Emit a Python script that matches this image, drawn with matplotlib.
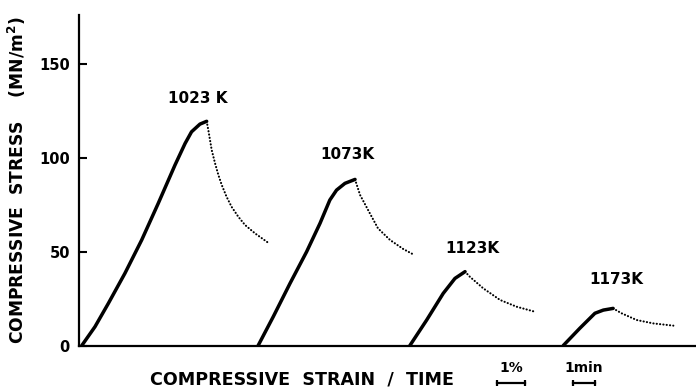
import matplotlib
matplotlib.use("Agg")
import matplotlib.pyplot as plt

# strain in % along x, stress in MN/m^2 along y
# solid = loading, dotted = relaxation after the peak
load_1023_x = [0.10, 0.57, 1.05, 1.64, 2.24, 2.83, 3.43, 3.79, 4.02, 4.32, 4.56]
load_1023_y = [0, 10.0, 22.5, 38.5, 56.3, 75.8, 96.3, 107.8, 114.0, 118.1, 119.6]
relax_1023_x = [4.56, 4.62, 4.68, 4.74, 4.86, 4.98, 5.10, 5.27, 5.45, 5.69, 5.93, 6.29, 6.76]
relax_1023_y = [119.6, 114.9, 109.6, 104.3, 97.2, 90.9, 85.6, 79.4, 74.0, 68.7, 64.3, 59.8, 54.8]

load_1073_x = [6.40, 6.94, 7.54, 8.13, 8.61, 8.96, 9.20, 9.50, 9.86]
load_1073_y = [0, 15.4, 33.2, 50.0, 65.2, 77.6, 82.9, 86.5, 88.6]
relax_1073_x = [9.86, 10.04, 10.39, 10.68, 11.11, 11.58, 11.94]
relax_1073_y = [88.6, 80.3, 70.5, 62.5, 56.3, 51.5, 48.6]

load_1123_x = [11.82, 12.42, 13.01, 13.43, 13.79]
load_1123_y = [0, 13.6, 27.8, 35.8, 39.4]
relax_1123_x = [13.79, 13.96, 14.44, 15.04, 15.63, 16.29]
relax_1123_y = [39.4, 36.7, 30.5, 24.3, 20.7, 18.0]

load_1173_x = [17.30, 17.89, 18.43, 18.73, 19.08]
load_1173_y = [0, 9.2, 17.2, 18.9, 19.8]
relax_1173_x = [19.08, 19.38, 19.92, 20.51, 21.23]
relax_1173_y = [19.8, 17.2, 13.6, 11.8, 10.6]

temp_labels = ["1023 K", "1073K", "1123K", "1173K"]
label_x = [4.25, 9.57, 14.04, 19.18]
label_y = [132, 102, 51.5, 35]

yticks = [0, 50, 100, 150]

# scale bars: 1 % strain, 1 min time (in strain units)
strain_bar = 1.0
strain_bar_start = 14.93
time_bar = 0.79
time_bar_start = 17.64

fig = plt.figure(figsize=(6.96, 3.89), dpi=100)
ax = fig.add_axes([0.1135, 0.1118, 0.8865, 0.8496])

curves = [
    (load_1023_x, load_1023_y, relax_1023_x, relax_1023_y),
    (load_1073_x, load_1073_y, relax_1073_x, relax_1073_y),
    (load_1123_x, load_1123_y, relax_1123_x, relax_1123_y),
    (load_1173_x, load_1173_y, relax_1173_x, relax_1173_y),
]
for lx, ly, rx, ry in curves:
    ax.plot(lx, ly, color="black", lw=2.5, solid_capstyle="round", solid_joinstyle="round")
    ax.plot(rx, ry, color="black", lw=1.5, linestyle=(0, (0.1, 1.5)),
            dash_capstyle="round")

for t, x, y in zip(temp_labels, label_x, label_y):
    ax.text(x, y, t, ha="center", va="center", fontsize=11, fontweight="bold")

ax.set_xlim(0, 22.04)
ax.set_ylim(0, 176.3)
ax.set_yticks(yticks)
ax.set_yticklabels([str(v) for v in yticks], fontsize=10.5, fontweight="bold")
ax.set_xticks([])
ax.tick_params(axis="y", direction="in", length=6, width=1.5, pad=6.5)
for s in ["top", "right"]:
    ax.spines[s].set_visible(False)
for s in ["left", "bottom"]:
    ax.spines[s].set_linewidth(1.6)

ax.set_ylabel("COMPRESSIVE  STRESS    (MN/m$^\\mathbf{2}$)", fontsize=12.3,
              fontweight="bold")
ax.yaxis.set_label_coords(-0.083, 0.5)

fig.text(302 / 696, 1 - 379 / 389, "COMPRESSIVE  STRAIN  /  TIME", ha="center",
         va="center", fontsize=12.6, fontweight="bold")

# scale bars below the axis
tr = ax.get_xaxis_transform()
for x0, w, lab in [(strain_bar_start, strain_bar, "1%"), (time_bar_start, time_bar, "1min")]:
    ax.plot([x0, x0 + w], [-0.113, -0.113], color="black", lw=1.6, transform=tr,
            clip_on=False, marker="|", markersize=5, markeredgewidth=1.6)
    ax.text(x0 + w / 2, -0.068, lab, transform=tr, ha="center", va="center",
            fontsize=10, fontweight="bold")

fig.savefig("out.png", dpi=100)
